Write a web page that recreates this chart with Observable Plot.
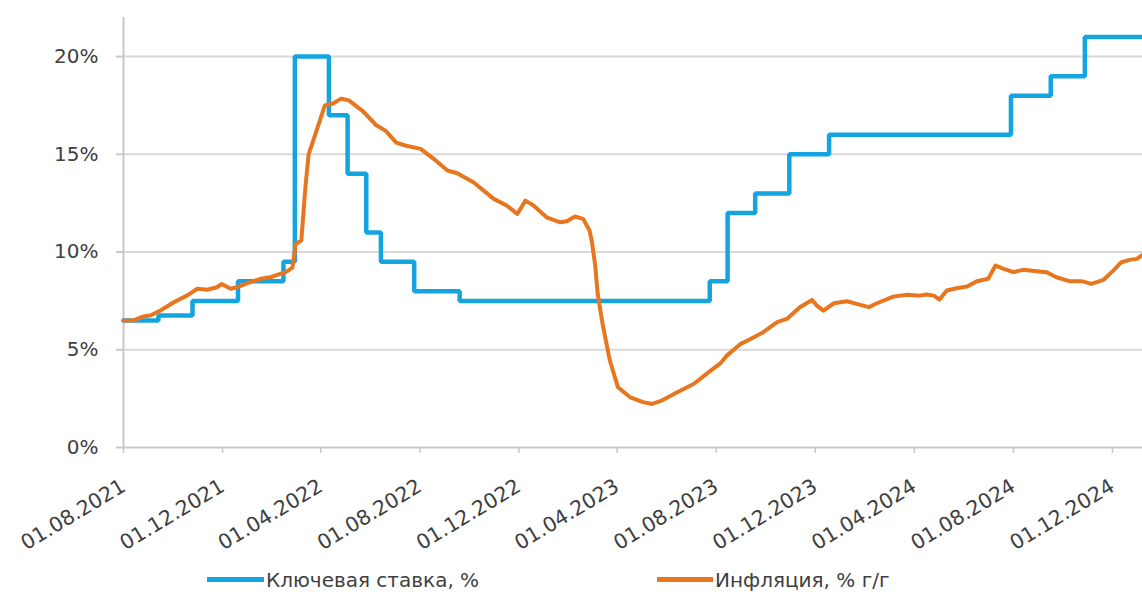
<!DOCTYPE html>
<html>
<head>
<meta charset="utf-8">
<script src="https://cdn.jsdelivr.net/npm/d3@7"></script>
<script src="https://cdn.jsdelivr.net/npm/@observablehq/plot@0.6"></script>
<style>
  html, body { margin: 0; padding: 0; background: #fff; }
  #wrap { position: relative; width: 1142px; height: 595px; overflow: hidden; font-family: "DejaVu Sans", sans-serif; }
  #legend { position: absolute; left: 0; top: 563px; width: 1142px; height: 33px; }
  .item { position: absolute; top: 0; height: 33px; display: flex; align-items: center; font-size: 20px; color: #404040; white-space: nowrap; }
  .sw { display: inline-block; height: 5px; margin-right: 2px; }
</style>
</head>
<body>
<div id="wrap"><div id="chart"></div><div id="legend"></div></div>
<script>
// ---- data ----
const seriesNames = ["Ключевая ставка, %", "Инфляция, % г/г"];
const seriesColors = ["#14a5e0", "#e8761e"];

const rateDates = ["2021-08-01","2021-09-13","2021-10-25","2021-12-20","2022-02-14","2022-02-28","2022-04-11","2022-05-04","2022-05-27","2022-06-14","2022-07-25","2022-09-19","2023-07-24","2023-08-15","2023-09-18","2023-10-30","2023-12-18","2024-07-29","2024-09-16","2024-10-28","2025-01-07"];
const rateValues = [6.5,6.75,7.5,8.5,9.5,20,17,14,11,9.5,8,7.5,8.5,12,13,15,16,18,19,21,21];

const inflDates = ["2021-08-01","2021-08-13","2021-08-25","2021-09-03","2021-09-15","2021-10-02","2021-10-18","2021-10-31","2021-11-12","2021-11-24","2021-11-30","2021-12-11","2021-12-19","2022-01-04","2022-01-17","2022-01-29","2022-02-10","2022-02-18","2022-02-25","2022-03-01","2022-03-08","2022-03-13","2022-03-17","2022-03-25","2022-04-06","2022-04-16","2022-04-26","2022-05-06","2022-05-23","2022-06-08","2022-06-20","2022-07-03","2022-07-14","2022-08-02","2022-08-18","2022-09-04","2022-09-16","2022-10-06","2022-10-31","2022-11-16","2022-11-29","2022-12-09","2022-12-19","2023-01-04","2023-01-21","2023-01-29","2023-02-08","2023-02-18","2023-02-26","2023-03-01","2023-03-05","2023-03-08","2023-03-14","2023-03-23","2023-04-02","2023-04-17","2023-05-03","2023-05-14","2023-05-26","2023-06-14","2023-07-04","2023-07-12","2023-07-24","2023-08-06","2023-08-14","2023-08-31","2023-09-10","2023-09-28","2023-10-15","2023-10-27","2023-11-12","2023-11-27","2023-12-03","2023-12-11","2023-12-24","2024-01-09","2024-01-21","2024-02-05","2024-02-15","2024-03-06","2024-03-23","2024-04-08","2024-04-16","2024-04-25","2024-05-02","2024-05-11","2024-05-23","2024-06-05","2024-06-17","2024-07-01","2024-07-10","2024-07-20","2024-08-01","2024-08-13","2024-08-30","2024-09-11","2024-09-23","2024-10-09","2024-10-24","2024-11-05","2024-11-20","2024-12-02","2024-12-12","2024-12-22","2024-12-31","2025-01-07"];
const inflValues = [6.5,6.5,6.7,6.75,7.0,7.43,7.77,8.12,8.07,8.2,8.37,8.12,8.2,8.46,8.63,8.71,8.88,9.0,9.2,10.4,10.6,13.3,15.0,16.0,17.5,17.6,17.85,17.75,17.2,16.5,16.2,15.6,15.45,15.28,14.77,14.17,14.03,13.57,12.72,12.38,11.95,12.63,12.38,11.78,11.52,11.58,11.82,11.7,11.1,10.5,9.3,7.86,6.33,4.45,3.08,2.57,2.32,2.23,2.4,2.83,3.25,3.5,3.9,4.3,4.7,5.3,5.5,5.9,6.41,6.58,7.18,7.55,7.26,7.0,7.38,7.48,7.35,7.18,7.38,7.72,7.81,7.77,7.83,7.77,7.57,8.03,8.15,8.24,8.51,8.63,9.31,9.14,8.97,9.09,9.02,8.97,8.71,8.51,8.51,8.37,8.58,9.05,9.48,9.6,9.65,9.85];

const xTickDates = ["2021-08-01","2021-12-01","2022-04-01","2022-08-01","2022-12-01","2023-04-01","2023-08-01","2023-12-01","2024-04-01","2024-08-01","2024-12-01"];
const yTicks = [0, 5, 10, 15, 20];
const yMax = 22;

// ---- build ----
const parse = d3.utcParse("%Y-%m-%d");
const rate = rateDates.map((d, i) => ({date: parse(d), v: rateValues[i]}));
const infl = inflDates.map((d, i) => ({date: parse(d), v: inflValues[i]}));
const xTicks = xTickDates.map(parse);
const xDomain = [parse(rateDates[0]), parse(rateDates[rateDates.length - 1])];
const fmt = d3.utcFormat("%d.%m.%Y");

const chart = Plot.plot({
  width: 1142,
  height: 562,
  marginLeft: 123,
  marginRight: 0,
  marginTop: 17,
  marginBottom: 115,
  style: {fontFamily: "DejaVu Sans, sans-serif", background: "#fff", overflow: "visible"},
  x: {type: "utc", domain: xDomain, label: null},
  y: {domain: [0, yMax], label: null},
  marks: [
    Plot.gridY(yTicks.filter(d => d > 0), {stroke: "#d9d9d9", strokeOpacity: 1, strokeWidth: 2}),
    Plot.axisY(yTicks, {tickSize: 7, tickFormat: () => "", color: "#c8c8c8", strokeWidth: 2, label: null}),
    Plot.axisY(yTicks, {tickSize: 0, tickPadding: 25, tickFormat: d => d + "%", color: "#404040", fontSize: 20, label: null}),
    Plot.axisX(xTicks, {tickSize: 6, tickFormat: () => "", color: "#c8c8c8", strokeWidth: 1.5, label: null}),
    Plot.axisX(xTicks, {tickSize: 0, tickPadding: 37, tickRotate: -31, tickFormat: fmt, color: "#404040", fontSize: 20.5, label: null}),
    Plot.ruleY([0], {stroke: "#c8c8c8", strokeWidth: 2}),
    Plot.ruleX([xDomain[0]], {stroke: "#c8c8c8", strokeWidth: 2}),
    Plot.line(rate, {x: "date", y: "v", curve: "step-after", stroke: seriesColors[0], strokeWidth: 4.5, strokeLinejoin: "miter"}),
    Plot.line(infl, {x: "date", y: "v", curve: "linear", stroke: seriesColors[1], strokeWidth: 4, strokeLinejoin: "round"})
  ]
});
document.getElementById("chart").appendChild(chart);

// legend
const legend = document.getElementById("legend");
const legendPos = [{left: 207, sw: 57}, {left: 657, sw: 56}];
seriesNames.forEach((name, i) => {
  const it = document.createElement("div");
  it.className = "item";
  it.style.left = legendPos[i].left + "px";
  const sw = document.createElement("span");
  sw.className = "sw";
  sw.style.width = legendPos[i].sw + "px";
  sw.style.background = seriesColors[i];
  const tx = document.createElement("span");
  tx.textContent = name;
  it.appendChild(sw);
  it.appendChild(tx);
  legend.appendChild(it);
});
</script>
</body>
</html>
